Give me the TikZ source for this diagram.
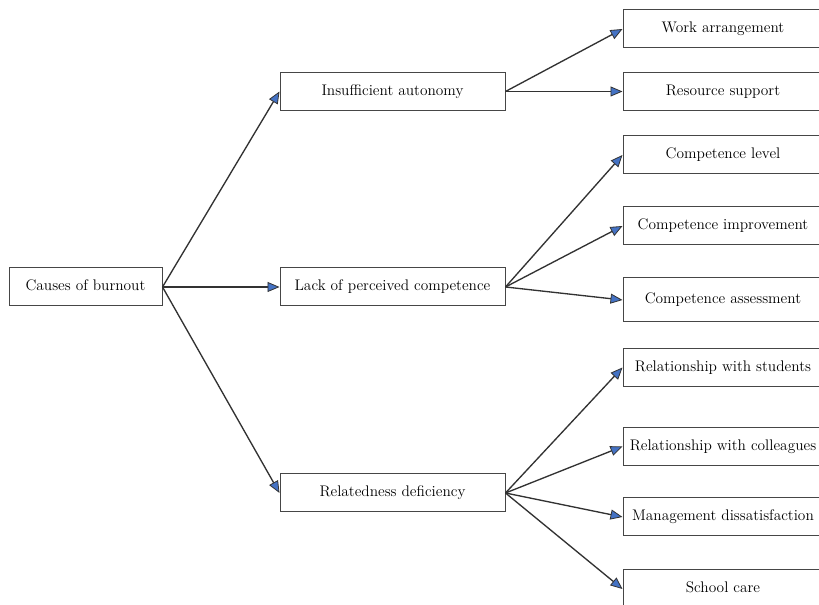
\documentclass[tikz,border=0pt]{standalone}
\usepackage{xcolor}
\usetikzlibrary{arrows.meta}
\definecolor{tipblue}{RGB}{68,114,196}
\definecolor{linegray}{RGB}{50,50,50}
\definecolor{boxgray}{RGB}{70,70,70}

\begin{document}
\begin{tikzpicture}[x=0.75pt,y=-0.75pt,
  box/.style={draw=boxgray,line width=0.75pt,fill=white,minimum height=28.5pt,inner sep=2pt,
    text height=8.5pt,text depth=2.5pt,font=\fontsize{11.5}{14}\selectfont},
  leftbox/.style={box,minimum width=114.75pt},
  midbox/.style={box,minimum width=168.75pt},
  rightbox/.style={box,minimum width=150pt},
  arr/.style={draw=linegray,line width=1pt,-{Triangle[length=9pt,width=7.5pt,fill=tipblue,line width=0.6pt]}}]
\useasboundingbox (0,0) rectangle (819,605);
\clip (0,0) rectangle (819,605);
\fill[white] (0,0) rectangle (819,605);

% first level
\node[leftbox] (cause) at (85.5,287) {Causes of burnout};
% second level
\node[midbox] (auto) at (392.5,91.5) {Insufficient autonomy};
\node[midbox] (comp) at (392.5,287) {Lack of perceived competence};
\node[midbox] (rel) at (392.5,493) {Relatedness deficiency};
% third level
\node[rightbox] (work) at (723,29) {Work arrangement};
\node[rightbox] (res) at (723,91.5) {Resource support};
\node[rightbox] (clev) at (723,155) {Competence level};
\node[rightbox] (cimp) at (723,226) {Competence improvement};
\node[rightbox,minimum height=33pt] (cass) at (723,300) {Competence assessment};
\node[rightbox] (rstu) at (723,367.5) {Relationship with students};
\node[rightbox] (rcol) at (723,446.5) {Relationship with colleagues};
\node[rightbox] (mgmt) at (723,517) {Management dissatisfaction};
\node[rightbox] (care) at (723,589) {School care};

\foreach \to in {auto,comp,rel}
  \draw[arr] (cause.east) -- (\to.west);
\foreach \to in {work,res}
  \draw[arr] (auto.east) -- (\to.west);
\foreach \to in {clev,cimp,cass}
  \draw[arr] (comp.east) -- (\to.west);
\foreach \to in {rstu,rcol,mgmt,care}
  \draw[arr] (rel.east) -- (\to.west);
\end{tikzpicture}
\end{document}
